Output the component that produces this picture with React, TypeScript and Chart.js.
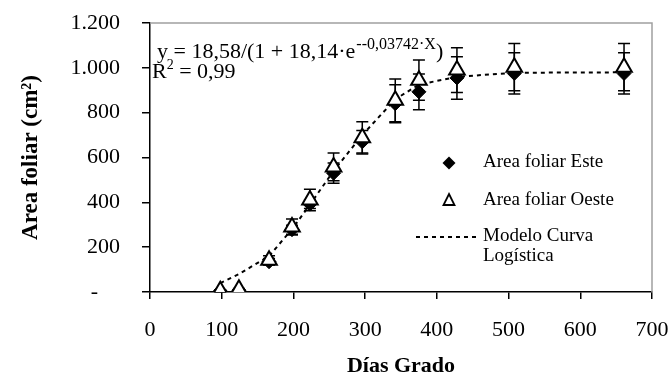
import React, { useEffect, useRef } from "react";
import { Chart, registerables } from "chart.js";

Chart.register(...registerables);

// ---- data ----
const diasGrado = [98, 124, 166, 198, 223, 256, 296, 342, 375, 428, 508, 661];
const areaFoliarEste = [4, 8, 135, 278, 392, 530, 670, 840, 893, 955, 975, 975];
const errorEste = [3, 3, 15, 20, 20, 45, 50, 85, 80, 95, 92, 92];
const areaFoliarOeste = [6, 12, 142, 290, 410, 558, 688, 855, 945, 990, 1003, 1003];
const errorOeste = [4, 4, 20, 36, 48, 62, 72, 95, 90, 100, 105, 105];
const modeloLogistico = [40, 80, 160, 280, 390, 540, 700, 860, 925, 960, 978, 980];
const xTickValues = [0, 100, 200, 300, 400, 500, 600, 700];
const yTickValues = [0, 200, 400, 600, 800, 1000, 1200];

const labelEste = "Area foliar Este";
const labelOeste = "Area foliar Oeste";
const labelModelo = ["Modelo Curva", "Logística"];
const xTitle = "Días Grado";
const yTitle = "Area foliar (cm²)";
const eqMain = "y = 18,58/(1 + 18,14·e";
const eqExp = "--0,03742·X";
const eqClose = ")";
const r2Main = "R";
const r2Sup = "2";
const r2Rest = " = 0,99";

const FONT = '"Liberation Serif", "Times New Roman", serif';

function fmtY(v: number): string {
  if (v === 0) return "-    ";
  return v.toLocaleString("de-DE");
}

const errorBarPlugin = {
  id: "errorBars",
  beforeDatasetsDraw(chart: any) {
    const { ctx, chartArea } = chart;
    const xs = chart.scales.x;
    const ys = chart.scales.y;
    ctx.save();
    // plot frame (grey top and right)
    ctx.strokeStyle = "#a0a0a0";
    ctx.lineWidth = 1.5;
    ctx.beginPath();
    ctx.moveTo(chartArea.left, chartArea.top);
    ctx.lineTo(chartArea.right, chartArea.top);
    ctx.lineTo(chartArea.right, chartArea.bottom);
    ctx.stroke();

    ctx.strokeStyle = "#000";
    ctx.lineWidth = 1.5;
    const series: [number[], number[]][] = [
      [areaFoliarEste, errorEste],
      [areaFoliarOeste, errorOeste],
    ];
    for (const [vals, errs] of series) {
      diasGrado.forEach((d, i) => {
        const x = xs.getPixelForValue(d);
        const yt = ys.getPixelForValue(vals[i] + errs[i]);
        const yb = ys.getPixelForValue(Math.max(0, vals[i] - errs[i]));
        ctx.beginPath();
        ctx.moveTo(x, yt);
        ctx.lineTo(x, yb);
        ctx.moveTo(x - 6, yt);
        ctx.lineTo(x + 6, yt);
        ctx.moveTo(x - 6, yb);
        ctx.lineTo(x + 6, yb);
        ctx.stroke();
      });
    }
    ctx.restore();
  },
};

const annotationPlugin = {
  id: "annotations",
  afterDatasetsDraw(chart: any) {
    const { ctx } = chart;
    ctx.save();
    ctx.fillStyle = "#000";
    ctx.textBaseline = "alphabetic";
    ctx.textAlign = "left";
    // equation
    let x = 157;
    ctx.font = `22px ${FONT}`;
    ctx.fillText(eqMain, x, 58);
    x += ctx.measureText(eqMain).width + 1;
    ctx.font = `16px ${FONT}`;
    ctx.fillText(eqExp, x, 49);
    x += ctx.measureText(eqExp).width;
    ctx.font = `22px ${FONT}`;
    ctx.fillText(eqClose, x, 58);
    // R2
    x = 152;
    ctx.font = `22px ${FONT}`;
    ctx.fillText(r2Main, x, 78);
    x += ctx.measureText(r2Main).width;
    ctx.font = `14px ${FONT}`;
    ctx.fillText(r2Sup, x, 69);
    x += ctx.measureText(r2Sup).width;
    ctx.font = `22px ${FONT}`;
    ctx.fillText(r2Rest, x, 78);

    // legend
    const mx = 449;
    const tx = 483;
    ctx.font = `19px ${FONT}`;
    // Este: diamond
    ctx.beginPath();
    ctx.moveTo(mx, 163 - 6.5);
    ctx.lineTo(mx + 6.5, 163);
    ctx.lineTo(mx, 163 + 6.5);
    ctx.lineTo(mx - 6.5, 163);
    ctx.closePath();
    ctx.fill();
    ctx.fillText(labelEste, tx, 167);
    // Oeste: triangle
    ctx.beginPath();
    ctx.moveTo(mx, 194);
    ctx.lineTo(mx + 5.5, 205);
    ctx.lineTo(mx - 5.5, 205);
    ctx.closePath();
    ctx.fillStyle = "#fff";
    ctx.fill();
    ctx.strokeStyle = "#000";
    ctx.lineWidth = 1.8;
    ctx.stroke();
    ctx.fillStyle = "#000";
    ctx.fillText(labelOeste, tx, 205);
    // Modelo
    ctx.beginPath();
    ctx.setLineDash([4, 4]);
    ctx.lineWidth = 2;
    ctx.moveTo(416, 237);
    ctx.lineTo(476, 237);
    ctx.stroke();
    ctx.setLineDash([]);
    ctx.fillText(labelModelo[0], tx, 241);
    ctx.fillText(labelModelo[1], tx, 261);
    ctx.restore();
  },
};

export default function App() {
  const ref = useRef<HTMLCanvasElement | null>(null);
  useEffect(() => {
    if (!ref.current) return;
    const chart = new Chart(ref.current, {
      type: "scatter",
      data: {
        datasets: [
          {
            label: labelOeste,
            data: diasGrado.map((d, i) => ({ x: d, y: areaFoliarOeste[i] })),
            pointStyle: "triangle",
            pointRadius: 9,
            pointBackgroundColor: "#fff",
            pointBorderColor: "#000",
            pointBorderWidth: 2,
            showLine: false,
            order: 0,
          },
          {
            label: labelEste,
            data: diasGrado.map((d, i) => ({ x: d, y: areaFoliarEste[i] })),
            pointStyle: "rectRot",
            pointRadius: 7,
            pointBackgroundColor: "#000",
            pointBorderColor: "#000",
            pointBorderWidth: 1,
            showLine: false,
            order: 1,
          },
          {
            label: labelModelo.join(" "),
            data: diasGrado.map((d, i) => ({ x: d, y: modeloLogistico[i] })),
            showLine: true,
            borderColor: "#000",
            borderWidth: 2,
            borderDash: [4, 4],
            pointRadius: 0,
            tension: 0,
            order: 2,
          },
        ],
      },
      options: {
        animation: false,
        responsive: false,
        devicePixelRatio: 1,
        layout: { padding: { left: 0, right: 18, top: 23, bottom: 0 } },
        plugins: {
          legend: { display: false },
          tooltip: { enabled: false },
        },
        scales: {
          x: {
            type: "linear",
            min: 0,
            max: 700,
            afterBuildTicks: (s: any) => {
              s.ticks = xTickValues.map((v) => ({ value: v }));
            },
            afterFit: (s: any) => {
              s.height = 91;
              s.paddingLeft = 0;
              s.paddingRight = 0;
            },
            ticks: {
              color: "#000",
              font: { family: FONT, size: 22 },
              padding: 18,
              maxRotation: 0,
            },
            grid: {
              drawOnChartArea: false,
              drawTicks: true,
              tickLength: 7,
              color: "#000",
              lineWidth: 1.5,
            },
            border: { color: "#000", width: 1.5 },
            title: {
              display: true,
              text: xTitle,
              color: "#000",
              font: { family: FONT, size: 22, weight: "bold" },
              padding: { top: 0, bottom: 3 },
            },
          },
          y: {
            type: "linear",
            min: 0,
            max: 1200,
            afterBuildTicks: (s: any) => {
              s.ticks = yTickValues.map((v) => ({ value: v }));
            },
            afterFit: (s: any) => {
              s.width = 150;
              s.paddingTop = 0;
              s.paddingBottom = 0;
            },
            ticks: {
              color: "#000",
              font: { family: FONT, size: 22 },
              padding: 22,
              callback: (v: any) => fmtY(Number(v)),
            },
            grid: {
              drawOnChartArea: false,
              drawTicks: true,
              tickLength: 8,
              color: "#000",
              lineWidth: 1.5,
            },
            border: { color: "#000", width: 1.5 },
            title: {
              display: true,
              text: yTitle,
              color: "#000",
              font: { family: FONT, size: 23, weight: "bold" },
              padding: { top: 17, bottom: 0 },
            },
          },
        },
      },
      plugins: [errorBarPlugin, annotationPlugin],
    });
    return () => chart.destroy();
  }, []);
  return (
    <div style={{ position: "absolute", left: 0, top: 0, width: 670, height: 383, background: "#fff" }}>
      <canvas ref={ref} width={670} height={383} style={{ width: 670, height: 383, display: "block" }} />
    </div>
  );
}
